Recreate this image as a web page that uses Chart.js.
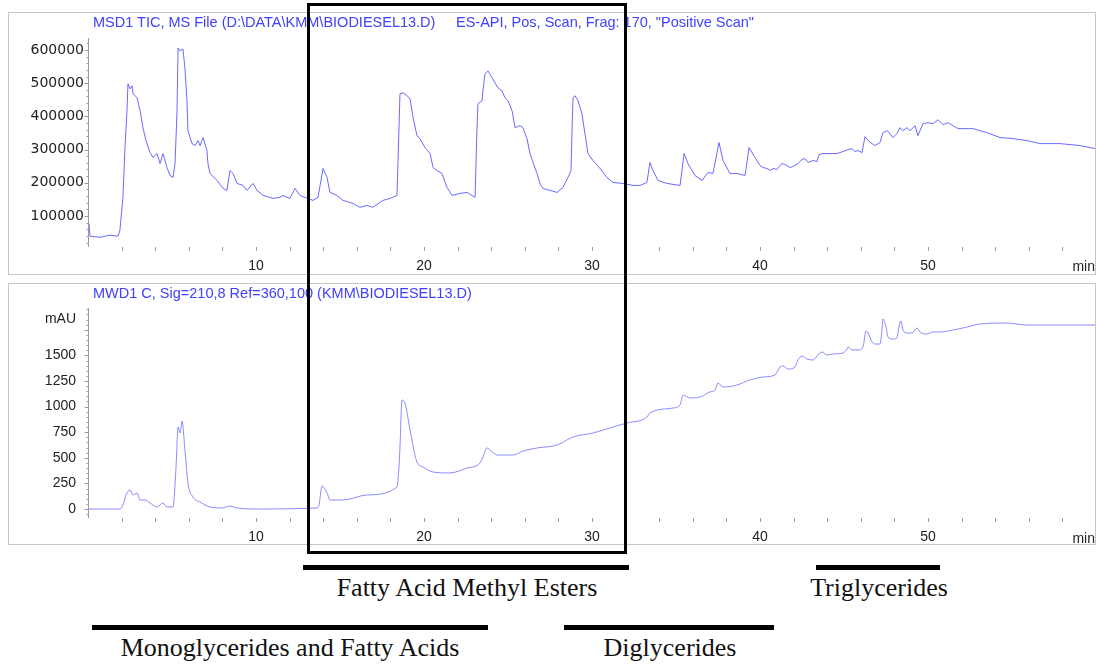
<!DOCTYPE html>
<html>
<head>
<meta charset="utf-8">
<title>Biodiesel chromatogram</title>
<script src="https://cdn.jsdelivr.net/npm/chart.js@4.4.1/dist/chart.umd.min.js"></script>
<style>
    body { margin: 0; width: 1097px; height: 665px; position: relative; overflow: hidden; background: #fff; font-family: "Liberation Sans", Arial, sans-serif; }
    .frame { position: absolute; left: 8px; width: 1088px; border: 1px solid #c6c6c6; box-sizing: border-box; }
    .plot { position: absolute; left: 0; }
    .title { position: absolute; color: #4040ff; font-size: 14.5px; line-height: 16px; white-space: nowrap; }
    .unit { position: absolute; right: 2px; color: #222; font-size: 14px; line-height: 16px; }
    .bar { position: absolute; height: 5px; background: #000; }
    .group { position: absolute; font-family: "Liberation Serif", "Times New Roman", serif; font-size: 26px; line-height: 26px; color: #111; white-space: nowrap; transform: translateX(-50%); }
    #zoomBox { position: absolute; left: 307px; top: 3px; width: 320px; height: 551px; border: 3px solid #000; box-sizing: border-box; }
</style>
</head>
<body>
<div class="frame" style="top:12px;height:263px"></div>
<div class="frame" style="top:283px;height:262px"></div>
<canvas id="ticChart" class="plot" width="1097" height="285" style="top:0"></canvas>
<canvas id="mwdChart" class="plot" width="1097" height="285" style="top:280px"></canvas>

<div class="title" style="left:93px;top:14px">MSD1 TIC, MS File (D:\DATA\KMM\BIODIESEL13.D)</div>
<div class="title" style="left:456px;top:14px">ES-API, Pos, Scan, Frag: 170, "Positive Scan"</div>
<div class="title" style="left:93px;top:285px">MWD1 C, Sig=210,8 Ref=360,100 (KMM\BIODIESEL13.D)</div>
<div class="unit" style="top:258px">min</div>
<div class="unit" style="top:530px">min</div>

<div class="bar" style="left:303px;top:565px;width:326px"></div>
<div class="group" style="left:467px;top:575px">Fatty Acid Methyl Esters</div>
<div class="bar" style="left:816px;top:565px;width:124px"></div>
<div class="group" style="left:879px;top:575px">Triglycerides</div>
<div class="bar" style="left:92px;top:625px;width:396px"></div>
<div class="group" style="left:290px;top:635px">Monoglycerides and Fatty Acids</div>
<div class="bar" style="left:564px;top:625px;width:210px"></div>
<div class="group" style="left:670px;top:635px">Diglycerides</div>

<div id="zoomBox"></div>

<script>
// MSD1 TIC trace (time in min, abundance)
const ticTime = [0.06, 0.12, 0.71, 1.31, 1.79, 1.90, 2.08, 2.20, 2.32, 2.38, 2.50, 2.62, 2.68, 2.92, 3.10, 3.27, 3.45, 3.69, 3.87, 4.11,
    4.29, 4.46, 4.70, 4.88, 5.06, 5.18, 5.30, 5.36, 5.48, 5.65, 5.77, 5.89, 5.95, 6.19, 6.37, 6.55, 6.67, 6.85, 7.08, 7.14,
    7.26, 7.68, 8.04, 8.27, 8.45, 8.63, 8.87, 9.23, 9.46, 9.82, 10.06, 10.42, 11.01, 11.43, 11.61, 11.85, 12.02, 12.32, 12.62, 13.04,
    13.39, 13.69, 13.99, 14.23, 14.40, 14.82, 15.18, 15.77, 16.19, 16.61, 16.96, 17.56, 17.98, 18.39, 18.45, 18.57, 18.75, 18.99, 19.17, 19.35,
    19.58, 19.76, 20.06, 20.36, 20.54, 20.77, 21.07, 21.37, 21.67, 22.14, 22.56, 23.04, 23.15, 23.21, 23.45, 23.51, 23.63, 23.81, 24.05, 24.23,
    24.40, 24.64, 24.82, 25.00, 25.24, 25.42, 25.71, 25.89, 26.13, 26.31, 26.49, 26.73, 26.90, 27.08, 27.50, 27.92, 28.27, 28.57, 28.75, 28.81,
    28.87, 28.99, 29.17, 29.40, 29.58, 29.76, 30.06, 30.48, 30.89, 31.25, 31.85, 32.44, 32.86, 33.27, 33.45, 33.63, 33.93, 34.46, 35.24, 35.48,
    35.71, 36.13, 36.55, 36.90, 37.20, 37.56, 37.80, 38.21, 38.63, 39.11, 39.35, 39.70,
    40.00, 40.18, 40.42, 40.60, 40.77, 41.01, 41.19, 41.31, 41.49, 41.79, 41.96, 42.26, 42.50, 42.68, 42.86, 43.15, 43.39, 43.51, 43.75, 44.17,
    44.58, 44.94, 45.24, 45.48, 45.65, 45.83, 46.07, 46.25, 46.43, 46.67, 46.85, 47.14, 47.32, 47.56, 47.74, 47.92, 48.15, 48.33, 48.51, 48.75,
    48.93, 49.23, 49.40, 49.70, 50.00, 50.30, 50.60, 50.89, 51.19, 51.49, 51.79, 52.68, 53.51, 54.29, 55.06, 55.89, 56.67, 57.86, 59.05, 59.94];
const ticSignal = [78000, 39000, 36000, 42000, 39000, 57000, 156000, 306000, 417000, 498000, 483000, 492000, 468000, 456000, 417000, 366000, 327000, 291000, 276000, 288000,
    258000, 288000, 246000, 222000, 216000, 258000, 417000, 606000, 597000, 603000, 546000, 447000, 357000, 318000, 312000, 327000, 312000, 336000, 297000, 258000,
    228000, 207000, 183000, 177000, 237000, 228000, 198000, 192000, 177000, 198000, 177000, 162000, 153000, 156000, 162000, 156000, 153000, 183000, 162000, 153000,
    147000, 156000, 243000, 216000, 171000, 162000, 147000, 138000, 126000, 132000, 126000, 147000, 153000, 162000, 258000, 468000, 471000, 462000, 453000, 396000,
    342000, 333000, 306000, 288000, 246000, 237000, 228000, 186000, 162000, 168000, 171000, 156000, 357000, 438000, 447000, 477000, 528000, 537000, 516000, 501000,
    486000, 477000, 456000, 447000, 417000, 366000, 372000, 366000, 333000, 288000, 261000, 228000, 198000, 183000, 177000, 171000, 186000, 216000, 237000, 357000,
    456000, 462000, 447000, 408000, 348000, 288000, 267000, 243000, 216000, 201000, 198000, 192000, 192000, 201000, 261000, 237000, 207000, 198000, 192000, 288000,
    258000, 222000, 207000, 231000, 228000, 321000, 267000, 228000, 228000, 222000, 306000, 276000,
    252000, 246000, 243000, 237000, 243000, 240000, 252000, 258000, 255000, 246000, 249000, 258000, 270000, 273000, 261000, 267000, 264000, 285000, 288000, 288000,
    288000, 294000, 300000, 303000, 294000, 297000, 291000, 339000, 327000, 318000, 312000, 321000, 351000, 357000, 348000, 336000, 348000, 366000, 357000, 366000,
    357000, 372000, 342000, 378000, 381000, 378000, 390000, 375000, 381000, 372000, 363000, 363000, 351000, 336000, 333000, 327000, 318000, 318000, 312000, 303000];

// MWD1 C trace (time in min, mAU)
const mwdTime = [0.06, 1.90, 2.08, 2.26, 2.50, 2.68, 2.92, 3.10, 3.39, 3.69, 4.11, 4.46, 4.70, 5.06, 5.24, 5.36, 5.48, 5.60, 5.77, 5.95,
    6.25, 6.67, 7.26, 8.04, 8.39, 8.87, 9.82, 13.63, 13.75, 13.93, 14.23, 14.40, 15.18, 16.61, 18.39, 18.51, 18.57, 18.69, 18.87, 19.17,
    19.58, 19.94, 20.54, 21.55, 22.56, 23.33, 23.51, 23.75, 24.05, 24.40, 25.30, 25.89, 26.73, 27.92, 28.87, 30.06, 31.25, 32.08, 33.27, 33.45,
    34.82, 35.24, 35.42, 35.83, 36.43, 37.02, 37.32, 37.50, 37.80, 38.63, 39.40, 40.18, 40.89,
    41.19, 41.37, 41.67, 42.08, 42.26, 42.50, 42.80, 43.15, 43.45, 43.69, 43.99, 44.35, 44.94, 45.18, 45.24, 45.48, 45.83, 46.13, 46.31, 46.43,
    46.67, 46.85, 47.14, 47.26, 47.32, 47.50, 47.62, 47.92, 48.15, 48.27, 48.39, 48.51, 48.75, 49.05, 49.35, 49.52, 49.94, 50.30, 50.71, 51.49,
    52.32, 53.10, 54.70, 55.89, 59.94];
const mwdSignal = [0, 0, 39, 137, 186, 137, 156, 88, 88, 59, 20, 59, 20, 20, 410, 801, 742, 859, 576, 254,
    117, 68, 20, 10, 29, 10, 0, 10, 39, 225, 156, 88, 88, 137, 215, 410, 605, 1064, 1035, 771,
    459, 410, 361, 352, 400, 449, 508, 596, 557, 527, 527, 566, 596, 625, 703, 742, 801, 840, 898, 938,
    986, 1016, 1113, 1084, 1094, 1143, 1162, 1230, 1191, 1211, 1260, 1289, 1309,
    1387, 1397, 1367, 1387, 1455, 1494, 1465, 1455, 1504, 1533, 1504, 1514, 1523, 1563, 1582, 1553, 1553, 1582, 1738, 1719,
    1631, 1611, 1611, 1748, 1856, 1777, 1680, 1660, 1670, 1777, 1836, 1748, 1719, 1719, 1768, 1729, 1709, 1729, 1729, 1748,
    1777, 1807, 1816, 1797, 1797];

const timeTicks = [10, 20, 30, 40, 50];
const ticTicks = [100000, 200000, 300000, 400000, 500000, 600000];
const mwdTicks = [0, 250, 500, 750, 1000, 1250, 1500];
const mwdUnitLevel = 1855; // where ChemStation prints "mAU"

const axisColor = '#9b9b9b';

const tickMarks = {
    id: 'tickMarks',
    afterDraw(chart, args, opts) {
        const { ctx, chartArea } = chart;
        const xScale = chart.scales.x;
        const yScale = chart.scales.y;
        const ax = Math.round(chartArea.left) + 0.5;

        ctx.save();
        ctx.strokeStyle = axisColor;
        ctx.lineWidth = 1;
        ctx.beginPath();
        ctx.moveTo(ax, chartArea.top);
        ctx.lineTo(ax, chartArea.bottom);
        for (let v = opts.yFrom; v <= yScale.max; v += opts.yMinor) {
            const py = Math.round(yScale.getPixelForValue(v)) + 0.5;
            const len = v % opts.yMajor === 0 ? 4 : 2;
            ctx.moveTo(ax - len, py);
            ctx.lineTo(ax, py);
        }
        for (let t = 2; t < xScale.max; t += 2) {
            const px = Math.round(xScale.getPixelForValue(t)) + 0.5;
            ctx.moveTo(px, chartArea.bottom);
            ctx.lineTo(px, chartArea.bottom + 4);
        }
        ctx.stroke();
        ctx.restore();
    }
};

function buildChart(canvasId, time, signal, cfg) {
    return new Chart(document.getElementById(canvasId), {
        type: 'line',
        data: {
            datasets: [{
                data: time.map((t, i) => ({ x: t, y: signal[i] })),
                borderColor: cfg.color,
                borderWidth: 1,
                pointRadius: 0,
                cubicInterpolationMode: cfg.smooth ? 'monotone' : 'default',
                tension: 0
            }]
        },
        options: {
            responsive: false,
            animation: false,
            events: [],
            layout: { padding: { top: cfg.top, right: 1, left: 0, bottom: 0 } },
            plugins: {
                legend: { display: false },
                tooltip: { enabled: false },
                tickMarks: cfg.marks
            },
            scales: {
                x: {
                    type: 'linear',
                    min: 0,
                    max: 60,
                    grid: { display: false, drawTicks: false },
                    border: { display: false },
                    afterBuildTicks: s => { s.ticks = timeTicks.map(v => ({ value: v })); },
                    afterFit: s => { s.height = cfg.xHeight; },
                    ticks: {
                        padding: 11,
                        color: '#222',
                        autoSkip: false,
                        maxRotation: 0,
                        font: { family: 'Liberation Sans', size: 14 }
                    }
                },
                y: {
                    min: cfg.min,
                    max: cfg.max,
                    grid: { display: false, drawTicks: false },
                    border: { display: false },
                    afterBuildTicks: s => { s.ticks = cfg.ticks.map(v => ({ value: v })); },
                    afterFit: s => { s.width = 88; },
                    ticks: {
                        padding: cfg.labelGap,
                        color: '#222',
                        autoSkip: false,
                        font: cfg.font,
                        callback: cfg.label
                    }
                }
            }
        },
        plugins: [tickMarks]
    });
}

buildChart('ticChart', ticTime, ticSignal, {
    top: 38,
    xHeight: 38,
    min: 6600,
    max: 636000,
    ticks: ticTicks,
    labelGap: 4,
    color: 'rgba(80, 80, 255, 0.85)',
    smooth: false,
    font: { family: 'DejaVu Sans', size: 14 },
    label: v => String(v),
    marks: { yFrom: 20000, yMinor: 20000, yMajor: 100000 }
});

buildChart('mwdChart', mwdTime, mwdSignal, {
    top: 28,
    xHeight: 47,
    min: -88,
    max: 1963,
    ticks: mwdTicks.concat([mwdUnitLevel]),
    labelGap: 12,
    color: 'rgba(110, 110, 255, 0.8)',
    smooth: true,
    font: { family: 'Liberation Sans', size: 14 },
    label: v => (v === mwdUnitLevel ? 'mAU' : String(v)),
    marks: { yFrom: -50, yMinor: 50, yMajor: 250 }
});
</script>
</body>
</html>
